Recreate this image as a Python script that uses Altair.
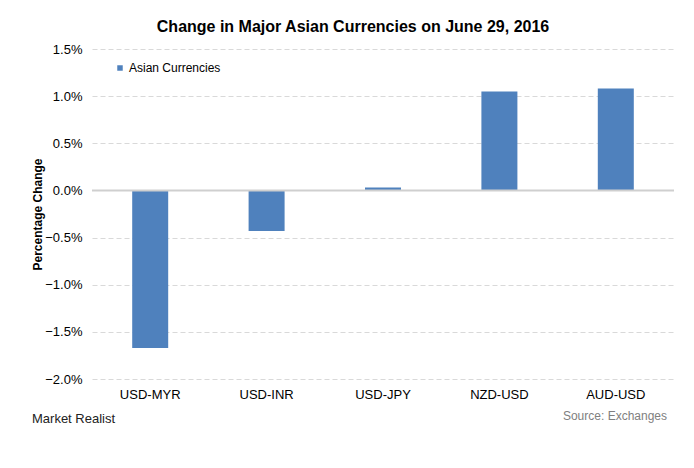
import altair as alt
import pandas as pd

pairs = ["USD-MYR", "USD-INR", "USD-JPY", "NZD-USD", "AUD-USD"]
changes_pct = [-1.67, -0.43, 0.03, 1.05, 1.08]
series_name = "Asian Currencies"
y_ticks_pct = [-2.0, -1.5, -1.0, -0.5, 0.0, 0.5, 1.0, 1.5]

df = pd.DataFrame({
    "pair": pairs,
    "change": [v / 100 for v in changes_pct],
    "series": [series_name] * len(pairs),
})

FONT = "Liberation Sans"
BLUE = "#4F81BD"

base = alt.Chart(df)

bars = base.mark_bar(size=36, color=BLUE).encode(
    x=alt.X("pair:N", sort=pairs, title=None,
            scale=alt.Scale(paddingInner=0, paddingOuter=0),
            axis=alt.Axis(labelAngle=0, labelFont=FONT, labelFontSize=13,
                          labelColor="#000000", labelPadding=9, ticks=False,
                          domain=False, grid=False)),
    y=alt.Y("change:Q", title="Percentage Change",
            scale=alt.Scale(domain=[-0.02, 0.015], nice=False, zero=False),
            axis=alt.Axis(values=[v / 100 for v in y_ticks_pct], format=".1%",
                          labelFont=FONT, labelFontSize=13, labelColor="#000000",
                          labelPadding=10, ticks=False, domain=False,
                          grid=True, gridColor="#d9d9d9", gridDash=[5, 3],
                          titleFont=FONT, titleFontSize=12, titleFontWeight="bold",
                          titleColor="#000000", titleX=-48)),
    color=alt.Color("series:N",
                    scale=alt.Scale(range=[BLUE]),
                    legend=alt.Legend(title=None, orient="none", legendX=22, legendY=13,
                                      symbolType="square", symbolSize=30,
                                      symbolStrokeWidth=0, labelFont=FONT,
                                      labelFontSize=12, labelOffset=3, padding=0)),
)

zero_df = pd.DataFrame({"z": [0.0]})
zero_line = alt.Chart(zero_df).mark_rule(color="#cfcfcf", strokeWidth=2).encode(y="z:Q")

foot_df = pd.DataFrame({"left": ["Market Realist"], "right": ["Source: Exchanges"]})
brand = alt.Chart(foot_df).mark_text(
    align="left", baseline="middle", font=FONT,
    fontSize=13, color="#222222", fontWeight=500
).encode(text="left:N", x=alt.value(-60), y=alt.value(370))
source = alt.Chart(foot_df).mark_text(
    align="right", baseline="middle", font=FONT,
    fontSize=12, color="#808080"
).encode(text="right:N", x=alt.value(575), y=alt.value(367))

chart = alt.layer(bars, zero_line, brand, source).properties(
    width=582, height=330,
    autosize=alt.AutoSizeParams(type="none"),
    padding={"left": 84, "top": 41, "right": 12, "bottom": 70},
    title=alt.TitleParams("Change in Major Asian Currencies on June 29, 2016",
                          font=FONT, fontSize=16, fontWeight="bold", color="#000000",
                          anchor="middle", dx=-30, offset=8),
).configure_view(stroke=None)

chart.save("out.html", embed_options={"renderer": "svg", "actions": False})
